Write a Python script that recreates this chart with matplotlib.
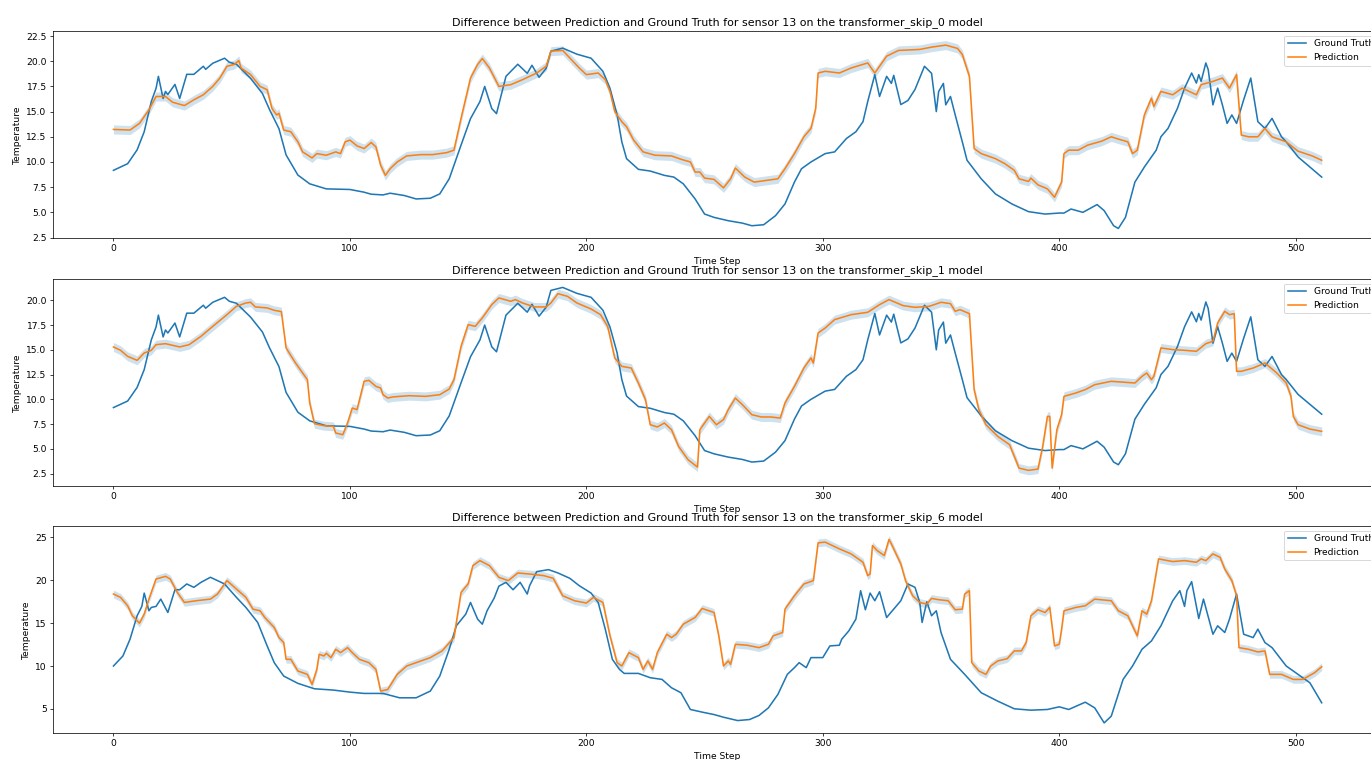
import matplotlib.pyplot as plt
import numpy as np

models = ['transformer_skip_0', 'transformer_skip_1', 'transformer_skip_6']
sensor = 13

# ground truth as seen in the first two panels
gt_steps = [0, 6, 10, 13, 16, 18, 19, 21, 22, 23, 26, 28, 31, 34, 38, 39, 42, 47, 49, 52,
            58, 63, 66, 70, 73, 78, 83, 90, 100, 106, 109, 114, 117, 123, 128, 134, 138, 142, 147, 151,
            155, 157, 160, 162, 166, 171, 175, 177, 180, 183, 185, 190, 196, 202, 207, 210, 213, 215, 217, 222,
            227, 233, 237, 241, 246, 250, 254, 260, 266, 270, 275, 280, 284, 288, 291, 295, 301, 305, 310, 314,
            317, 319, 322, 324, 327, 329, 330, 333, 336, 339, 343, 346, 348, 349, 351, 352, 354, 356, 359, 361,
            367, 373, 380, 387, 394, 400, 402, 405, 410, 416, 419, 423, 425, 428, 432, 436, 441, 443, 446, 450,
            453, 456, 458, 459, 460, 462, 463, 465, 467, 469, 471, 473, 475, 478, 481, 484, 487, 490, 494, 496,
            501, 506, 511]
gt_vals = [9.17, 9.83, 11.2, 13.0, 16.0, 17.3, 18.5, 16.3, 17.0, 16.7, 17.7, 16.3, 18.7, 18.7, 19.5, 19.2, 19.8, 20.3, 19.9, 19.7,
           18.3, 16.8, 15.2, 13.3, 10.7, 8.7, 7.83, 7.33, 7.27, 7.0, 6.8, 6.73, 6.9, 6.67, 6.33, 6.4, 6.83, 8.33, 11.67, 14.3,
           16.0, 17.5, 15.3, 14.8, 18.5, 19.7, 18.8, 19.6, 18.4, 19.3, 21.0, 21.3, 20.7, 20.3, 19.0, 17.3, 14.7, 12.0, 10.33, 9.27,
           9.1, 8.67, 8.5, 7.83, 6.33, 4.83, 4.5, 4.17, 3.93, 3.67, 3.77, 4.67, 5.83, 8.0, 9.33, 10.0, 10.83, 11.0, 12.33, 13.0,
           14.0, 16.0, 18.67, 16.5, 18.5, 17.8, 18.6, 15.7, 16.1, 17.2, 19.5, 18.8, 15.0, 17.0, 17.8, 15.67, 16.5, 14.67, 12.0, 10.17,
           8.33, 6.83, 5.83, 5.07, 4.83, 4.93, 4.93, 5.33, 5.0, 5.77, 5.17, 3.67, 3.4, 4.5, 8.0, 9.5, 11.17, 12.5, 13.33, 15.33,
           17.33, 18.83, 17.83, 18.67, 18.0, 19.83, 19.17, 15.67, 17.33, 15.67, 13.83, 14.67, 13.83, 16.17, 18.33, 14.0, 13.33, 14.33, 12.5, 12.0,
           10.5, 9.5, 8.5]

# ground truth as seen in the third panel
gt6_steps = [0, 4, 7, 10, 12, 13, 15, 16, 18, 20, 23, 26, 28, 31, 34, 37, 41, 44, 47, 52,
             56, 61, 65, 68, 72, 78, 85, 93, 100, 106, 110, 114, 121, 128, 134, 138, 142, 145, 149, 151,
             154, 156, 158, 161, 163, 166, 169, 172, 175, 176, 179, 184, 188, 193, 197, 202, 205, 208, 211, 214,
             216, 222, 227, 232, 236, 240, 244, 249, 254, 258, 264, 269, 273, 277, 281, 285, 288, 290, 293, 295,
             300, 303, 307, 308, 311, 314, 316, 318, 320, 322, 324, 327, 331, 333, 336, 339, 341, 342, 344, 346,
             348, 350, 354, 360, 367, 374, 381, 388, 395, 400, 404, 411, 415, 419, 422, 427, 431, 435, 439, 443,
             448, 451, 453, 454, 456, 459, 461, 465, 467, 470, 472, 475, 478, 482, 484, 487, 490, 496, 501, 506,
             511]
gt6_vals = [10.0, 11.17, 13.12, 15.85, 16.94, 18.49, 16.43, 16.82, 16.94, 17.79, 16.23, 18.88, 18.88, 19.55, 19.16, 19.74, 20.33, 19.94, 19.55, 17.99,
            16.82, 15.07, 12.34, 10.39, 8.83, 7.98, 7.35, 7.2, 6.96, 6.81, 6.81, 6.81, 6.3, 6.3, 7.08, 8.83, 11.95, 14.68, 16.04, 17.4,
            15.46, 14.87, 16.43, 17.9, 19.3, 19.74, 18.88, 19.74, 18.38, 19.35, 20.99, 21.22, 20.83, 20.21, 19.35, 18.49, 17.4, 14.29, 10.78, 9.61,
            9.14, 9.14, 8.64, 8.44, 7.47, 6.89, 4.94, 4.63, 4.35, 4.04, 3.65, 3.77, 4.24, 5.13, 6.69, 9.03, 9.81, 10.39, 9.81, 10.98,
            10.98, 12.34, 12.42, 13.12, 14.09, 15.46, 18.77, 16.55, 18.49, 17.6, 18.65, 15.65, 16.94, 17.6, 19.55, 19.16, 17.4, 15.07, 17.48, 15.85,
            16.43, 13.9, 10.78, 9.03, 6.89, 5.91, 5.02, 4.86, 4.94, 5.25, 4.94, 5.79, 5.13, 3.38, 4.16, 8.44, 10.0, 11.95, 12.92, 14.68,
            17.6, 18.77, 16.94, 18.77, 19.82, 15.53, 17.79, 13.7, 14.68, 13.9, 15.46, 18.38, 13.7, 13.31, 14.29, 12.73, 12.14, 10.0, 9.03, 8.05,
            5.72]

pred0_steps = [0, 7, 11, 15, 18, 22, 25, 30, 34, 38, 42, 45, 48, 51, 53, 54, 58, 62, 65, 67,
               69, 70, 72, 75, 78, 80, 84, 86, 90, 94, 96, 98, 100, 103, 106, 109, 111, 113, 115, 117,
               120, 124, 130, 135, 141, 144, 147, 151, 154, 156, 159, 163, 168, 173, 179, 183, 185, 190, 193, 197,
               200, 205, 208, 210, 212, 215, 217, 220, 224, 229, 236, 240, 244, 246, 248, 250, 254, 258, 261, 263,
               267, 271, 276, 281, 284, 288, 292, 295, 297, 298, 301, 307, 312, 319, 322, 327, 332, 341, 346, 352,
               357, 359, 362, 364, 367, 373, 377, 381, 383, 387, 388, 391, 395, 398, 400, 401, 402, 404, 408, 412,
               418, 422, 425, 429, 431, 433, 436, 439, 440, 443, 448, 452, 458, 460, 465, 469, 470, 472, 475, 477,
               480, 484, 487, 490, 496, 501, 507, 511]
pred0_vals = [13.23, 13.17, 13.83, 15.17, 16.5, 16.5, 15.93, 15.6, 16.17, 16.67, 17.5, 18.33, 19.5, 19.67, 20.07, 19.33, 18.67, 17.5, 17.17, 15.33,
              14.67, 14.83, 13.17, 13.0, 12.0, 11.0, 10.4, 10.83, 10.67, 11.0, 10.83, 12.0, 12.17, 11.6, 11.33, 11.93, 11.5, 9.67, 8.67, 9.33,
              10.0, 10.6, 10.73, 10.73, 10.93, 11.17, 14.33, 18.33, 19.67, 20.27, 19.33, 17.5, 17.67, 18.17, 18.83, 19.5, 21.0, 21.07, 20.33, 19.33,
              18.67, 18.83, 18.17, 17.0, 15.0, 14.0, 13.5, 12.17, 11.0, 10.67, 10.6, 10.27, 10.0, 9.0, 9.0, 8.4, 8.27, 7.43, 8.33, 9.4,
              8.5, 8.0, 8.17, 8.33, 9.33, 10.83, 12.5, 13.33, 15.33, 18.83, 19.0, 18.83, 19.33, 19.83, 18.83, 20.5, 21.07, 21.17, 21.4, 21.6,
              21.27, 20.67, 18.5, 11.33, 10.83, 10.33, 9.83, 9.17, 8.33, 8.07, 8.4, 7.73, 7.33, 6.5, 7.5, 8.0, 10.83, 11.17, 11.17, 11.67,
              12.07, 12.5, 12.27, 12.0, 10.83, 11.17, 14.67, 16.33, 15.5, 17.0, 16.67, 17.33, 16.67, 17.67, 18.0, 18.33, 18.0, 17.33, 18.67, 12.67,
              12.5, 12.5, 13.33, 12.5, 12.0, 11.07, 10.6, 10.17]

pred1_steps = [0, 3, 6, 10, 13, 16, 18, 22, 28, 32, 37, 42, 48, 52, 56, 58, 60, 65, 68, 71,
               73, 77, 82, 83, 85, 89, 93, 94, 97, 99, 101, 103, 106, 108, 111, 113, 114, 116, 118, 125,
               132, 138, 142, 144, 147, 150, 153, 156, 160, 163, 168, 170, 173, 178, 183, 185, 188, 192, 196, 202,
               206, 209, 212, 215, 219, 222, 225, 227, 230, 233, 236, 239, 243, 247, 248, 252, 255, 258, 260, 263,
               266, 270, 274, 278, 282, 284, 288, 292, 295, 296, 298, 301, 305, 312, 319, 324, 328, 334, 339, 345,
               350, 354, 356, 358, 362, 364, 366, 369, 374, 379, 381, 383, 387, 391, 393, 395, 396, 397, 399, 401,
               402, 407, 411, 415, 422, 428, 432, 435, 437, 439, 440, 443, 448, 453, 458, 462, 465, 467, 470, 472,
               474, 475, 477, 482, 487, 492, 496, 498, 499, 501, 506, 511]
pred1_vals = [15.29, 14.95, 14.34, 13.94, 14.68, 14.95, 15.52, 15.62, 15.29, 15.52, 16.36, 17.37, 18.55, 19.39, 19.73, 19.8, 19.33, 19.23, 18.99, 18.86,
              15.19, 13.67, 11.99, 9.63, 7.54, 7.34, 7.27, 6.6, 6.43, 7.61, 9.12, 8.96, 11.82, 11.92, 11.31, 11.14, 10.47, 10.13, 10.24, 10.37,
              10.3, 10.47, 11.04, 11.99, 15.35, 17.54, 17.37, 18.22, 19.56, 20.24, 19.9, 20.07, 19.73, 19.33, 19.33, 19.73, 20.67, 20.4, 19.73, 19.12,
              18.55, 17.37, 14.18, 13.33, 13.16, 11.65, 9.97, 7.44, 7.21, 7.61, 6.94, 5.25, 3.91, 3.16, 6.94, 8.28, 7.44, 7.95, 8.96, 10.13,
              9.46, 8.45, 8.22, 8.22, 8.11, 9.63, 11.31, 13.16, 14.18, 13.67, 16.7, 17.2, 18.05, 18.55, 18.79, 19.56, 20.07, 19.46, 19.29, 19.39,
              19.8, 19.66, 18.89, 19.06, 18.65, 10.98, 8.96, 7.44, 6.26, 5.42, 4.24, 3.06, 2.83, 2.96, 5.25, 8.28, 8.28, 3.06, 6.94, 8.45,
              10.3, 10.64, 10.98, 11.48, 11.82, 11.72, 11.65, 12.32, 12.66, 11.99, 12.32, 15.19, 15.02, 14.95, 14.85, 15.62, 15.86, 17.71, 18.89, 18.55,
              18.65, 12.83, 12.83, 13.16, 13.67, 12.66, 11.65, 10.3, 8.28, 7.44, 7.0, 6.77]

pred6_steps = [0, 3, 6, 8, 11, 13, 15, 18, 22, 24, 27, 30, 35, 41, 44, 48, 52, 56, 59, 62,
               64, 68, 70, 72, 73, 75, 78, 82, 84, 86, 87, 89, 90, 92, 94, 96, 99, 101, 104, 108,
               111, 113, 116, 120, 124, 128, 134, 139, 144, 147, 150, 152, 155, 159, 163, 167, 171, 176, 182, 186,
               190, 195, 200, 203, 207, 210, 213, 215, 218, 222, 224, 226, 228, 230, 234, 236, 238, 241, 246, 249,
               254, 256, 258, 260, 261, 263, 268, 273, 277, 279, 283, 284, 288, 292, 296, 298, 301, 307, 312, 317,
               319, 320, 321, 323, 326, 328, 329, 333, 335, 338, 341, 344, 346, 349, 353, 356, 359, 360, 362, 363,
               366, 369, 371, 374, 378, 381, 384, 386, 388, 391, 394, 396, 398, 400, 401, 402, 407, 411, 415, 422,
               425, 429, 433, 435, 437, 439, 442, 448, 453, 458, 460, 462, 465, 468, 470, 473, 475, 476, 480, 484,
               487, 489, 494, 499, 503, 508, 511]
pred6_vals = [18.38, 17.99, 17.01, 15.85, 14.99, 16.04, 17.79, 20.13, 20.44, 20.13, 18.57, 17.4, 17.6, 17.79, 18.38, 19.94, 18.96, 17.99, 16.62, 16.43,
              15.65, 14.48, 13.31, 12.73, 10.78, 10.78, 9.42, 9.03, 7.86, 9.61, 11.37, 11.17, 11.48, 10.98, 11.95, 11.56, 12.14, 11.56, 10.78, 10.39,
              9.61, 7.08, 7.27, 9.03, 10.0, 10.39, 10.98, 11.76, 13.31, 18.57, 19.55, 21.69, 22.27, 21.69, 20.33, 19.94, 20.83, 20.71, 20.52, 20.21,
              18.18, 17.6, 17.33, 17.99, 17.4, 13.51, 10.39, 10.0, 11.56, 10.98, 9.61, 10.59, 9.61, 11.56, 13.7, 13.31, 13.7, 14.87, 15.65, 16.7,
              16.23, 13.51, 10.0, 10.59, 10.2, 12.53, 12.42, 12.14, 12.53, 13.51, 13.9, 16.62, 18.18, 19.55, 19.94, 24.34, 24.42, 23.64, 23.05, 22.08,
              20.52, 20.71, 24.03, 23.44, 22.86, 24.73, 24.22, 21.88, 19.94, 18.18, 17.4, 17.21, 17.87, 17.72, 17.6, 16.55, 16.62, 18.38, 18.77, 10.39,
              9.42, 9.03, 10.0, 10.59, 10.86, 11.76, 11.76, 12.73, 15.85, 16.55, 16.23, 16.82, 12.34, 12.53, 14.29, 16.43, 16.82, 17.01, 17.79, 17.6,
              16.43, 15.85, 13.51, 16.43, 16.04, 17.6, 22.47, 22.16, 22.27, 22.08, 22.47, 22.27, 23.05, 22.66, 21.3, 19.94, 18.18, 12.14, 11.95, 11.64,
              11.76, 9.03, 9.03, 8.44, 8.44, 9.22, 9.92]

# half width of the uncertainty band around the prediction
band = 0.45

panels = [
    (gt_steps, gt_vals, pred0_steps, pred0_vals),
    (gt_steps, gt_vals, pred1_steps, pred1_vals),
    (gt6_steps, gt6_vals, pred6_steps, pred6_vals),
]
ylims = [(2.45, 23.0), (1.25, 22.15), (2.2, 26.3)]
bottoms = [0.6868, 0.3605, 0.0355]

W, H, DPI = 1371, 760, 66
fig = plt.figure(figsize=(W / DPI, H / DPI), dpi=DPI)

for i, (gs, gv, ps, pv) in enumerate(panels):
    # the axes run past the right edge of the figure, as in the cropped original
    ax = fig.add_axes([0.0387, bottoms[i], 0.9694, 0.2724])
    ps = np.array(ps)
    pv = np.array(pv)
    ax.fill_between(ps, pv - band, pv + band, color='#1f77b4', alpha=0.22, linewidth=0, zorder=1)
    ax.plot(gs, gv, color='#1f77b4', lw=1.7, label='Ground Truth', zorder=2)
    ax.plot(ps, pv, color='#ff7f0e', lw=1.7, label='Prediction', zorder=3)
    ax.set_xlim(-25.55, 536.55)
    ax.set_ylim(*ylims[i])
    ax.set_title(f'Difference between Prediction and Ground Truth for sensor {sensor} on the {models[i]} model')
    ax.set_xlabel('Time Step')
    ax.set_ylabel('Temperature')
    ax.legend(loc='upper right')

fig.savefig('out.png', dpi=DPI)
